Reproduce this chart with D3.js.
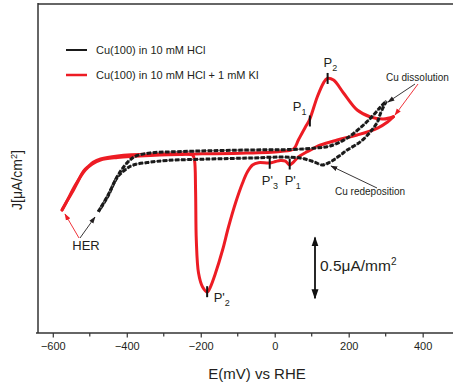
<!DOCTYPE html>
<html>
<head>
<meta charset="utf-8">
<script src="https://d3js.org/d3.v7.min.js"></script>
<style>
  body { margin: 0; background: #fff; }
  text { font-family: "Liberation Sans", Arial, sans-serif; fill: #231f20; }
</style>
</head>
<body>
<script>
// potential E (mV vs RHE) and current density J (uA/cm2)
var redAnodic = [
  [-575,-39.1],[-560,-30.9],[-544,-22.6],[-530,-14.4],[-517,-7.1],[-503,-3.0],[-490,0.3],
  [-471,2.8],[-425,5.3],[-336,6.9],[-214,7.0],[-93,7.5],[15,9.0],[51,11.0],[64,18.4],
  [83,29.1],[94,34.9],[115,53.7],[132,65.3],[142,68.9],[159,67.6],[186,57.0],[223,43.0],
  [259,37.3],[294,35.6],[321,37.5]
];
var redCathodic = [
  [321,37.5],[305,33.2],[278,28.2],[223,22.5],[169,18.4],[124,14.3],[88,8.8],[64,4.4],
  [48,-0.5],[40,-2.1],[29,1.1],[15,1.6],[2,0.7],[-14,-0.5],[-44,-0.2],[-60,-2.1],
  [-74,-7.9],[-87,-16.9],[-106,-33.3],[-125,-53.0],[-141,-71.9],[-160,-90.8],[-174,-102.3],
  [-182,-106.4],[-195,-102.3],[-206,-90.8],[-212,-63.7],[-214,-22.6],[-217,2.0],
  [-222,6.1],[-255,6.5],[-336,5.7],[-425,4.0],[-471,2.0],[-493,-1.3],[-512,-6.2],
  [-539,-18.5],[-563,-32.5],[-575,-39.1]
];
var blackCathodic = [
  [302,50.4],[286,40.3],[278,33.4],[259,25.2],[232,17.0],[196,10.2],[178,6.1],[159,2.0],
  [142,-0.9],[128,-2.1],[105,0.6],[69,3.6],[15,4.4],[-66,3.6],[-174,2.8],[-290,1.6],
  [-344,-0.1],[-382,-2.1],[-398,-4.6],[-425,-12.0],[-452,-28.4],[-477,-40.5]
];
var blackAnodic = [
  [-477,-40.5],[-452,-27.6],[-425,-11.2],[-404,-2.1],[-388,2.8],[-371,5.7],[-336,7.8],
  [-263,8.8],[-174,9.6],[-66,10.2],[42,10.6],[110,11.8],[150,13.5],[196,20.0],[240,30.7],
  [267,38.9],[286,45.5],[302,50.4]
];
var peaks = [
  {name: "P", sub: "2", prime: false, E: 143, J: 68.9, dx: -4, dy: -11.5},
  {name: "P", sub: "1", prime: false, E: 95, J: 34.0, dx: -17, dy: -10},
  {name: "P", sub: "1", prime: true, E: 40.5, J: -1.3, dx: -5, dy: 21},
  {name: "P", sub: "3", prime: true, E: -13.5, J: -0.7, dx: -8, dy: 21.5},
  {name: "P", sub: "2", prime: true, E: -182.7, J: -106.1, dx: 6.5, dy: 10.5}
];
var xTicks = [-600, -400, -200, 0, 200, 400];
var xMinorTicks = [-500, -300, -100, 100, 300];
var legendLabels = ["Cu(100) in 10 mM HCl", "Cu(100) in 10 mM HCl + 1 mM KI"];
var scaleBarValue = 50; // 0.5 uA/mm2 = 50 uA/cm2

var w = 453, h = 388;
var margin = {top: 4, left: 38};
var width = 415, height = 329;
var red = "#ed1c24";

var svg = d3.select("body").append("svg")
  .attr("width", w).attr("height", h);

var defs = svg.append("defs");
function marker(id, color, size) {
  defs.append("marker")
    .attr("id", id).attr("viewBox", "0 0 10 10")
    .attr("refX", 9).attr("refY", 5)
    .attr("markerUnits", "userSpaceOnUse")
    .attr("markerWidth", size).attr("markerHeight", size)
    .attr("orient", "auto-start-reverse")
    .append("path").attr("d", "M0,1.5 L10,5 L0,8.5 Z").attr("fill", color);
}
marker("arrBlack", "#231f20", 7);
marker("arrRed", red, 7);
marker("arrBig", "#111", 10);

var chart = svg.append("g")
  .attr("transform", "translate(" + margin.left + "," + margin.top + ")");

var x = d3.scaleLinear().domain([-640, 482]).range([0, width]);
var y = d3.scaleLinear().domain([-140, 130]).range([height, 0]);

// frame
chart.append("line").attr("x1", 0).attr("x2", 0).attr("y1", -1).attr("y2", height)
  .attr("stroke", "#333").attr("stroke-width", 1.5);
chart.append("line").attr("x1", 0).attr("x2", w).attr("y1", 0).attr("y2", 0)
  .attr("stroke", "#333").attr("stroke-width", 1.5);

// x axis
var xAxis = chart.append("g")
  .attr("transform", "translate(0," + height + ")")
  .call(d3.axisBottom(x).tickValues(xTicks).tickSize(4.5).tickPadding(5));
xAxis.select(".domain").remove();
xAxis.selectAll(".tick line").attr("stroke", "#333").attr("stroke-width", 1.2);
xAxis.selectAll("text").attr("font-size", 11).attr("fill", "#231f20")
  .style("font-family", "Liberation Sans, Arial, sans-serif");
xAxis.selectAll(".minor").data(xMinorTicks).enter().append("line")
  .attr("x1", x).attr("x2", x).attr("y1", 0).attr("y2", 3.5)
  .attr("stroke", "#333").attr("stroke-width", 1.2);
xAxis.append("line").attr("x1", -2).attr("x2", w).attr("y1", 0).attr("y2", 0)
  .attr("stroke", "#333").attr("stroke-width", 1.5);

svg.append("text").attr("x", 257).attr("y", 379).attr("text-anchor", "middle")
  .attr("font-size", 15).text("E(mV) vs RHE");

var yl = svg.append("text").attr("transform", "translate(22,180) rotate(-90)")
  .attr("text-anchor", "middle").attr("font-size", 14);
yl.append("tspan").text("J[\u03bcA/cm");
yl.append("tspan").attr("dy", -5).attr("font-size", 9).text("2");
yl.append("tspan").attr("dy", 5).text("]");

// curves
var line = d3.line()
  .x(function(d) { return x(d[0]); })
  .y(function(d) { return y(d[1]); })
  .curve(d3.curveCatmullRom.alpha(0.5));

[redAnodic, redCathodic].forEach(function(seg) {
  chart.append("path").attr("d", line(seg)).attr("fill", "none")
    .attr("stroke", red).attr("stroke-width", 3).attr("stroke-linejoin", "round")
    .attr("stroke-linecap", "round");
});
[blackCathodic, blackAnodic].forEach(function(seg) {
  chart.append("path").attr("d", line(seg)).attr("fill", "none")
    .attr("stroke", "#888").attr("stroke-width", 1.2);
  chart.append("path").attr("d", line(seg)).attr("fill", "none")
    .attr("stroke", "#1a1a1a").attr("stroke-width", 3)
    .attr("stroke-dasharray", "4.5,1.6");
});

// peak markers + labels
peaks.forEach(function(p) {
  var px = x(p.E), py = y(p.J);
  chart.append("line").attr("x1", px).attr("x2", px).attr("y1", py - 5.5).attr("y2", py + 5.5)
    .attr("stroke", "#111").attr("stroke-width", 2);
  var t = chart.append("text").attr("x", px + p.dx).attr("y", py + p.dy).attr("font-size", 13);
  t.append("tspan").text(p.name + (p.prime ? "'" : ""));
  t.append("tspan").attr("dy", 4).attr("font-size", 9).text(p.sub);
});

// legend
var legend = svg.append("g").selectAll("g").data(legendLabels).enter().append("g")
  .attr("transform", function(d, i) { return "translate(0," + (50 + i * 25) + ")"; });
legend.append("line").attr("x1", 66).attr("x2", 87).attr("y1", 0).attr("y2", 0)
  .attr("stroke", function(d, i) { return i ? red : "#1a1a1a"; })
  .attr("stroke-width", function(d, i) { return i ? 2.5 : 2; });
legend.append("text").attr("x", 96).attr("y", 4).attr("font-size", 11)
  .text(function(d) { return d; });

// annotations
function arrow(x1, y1, x2, y2, color, id) {
  svg.append("line").attr("x1", x1).attr("y1", y1).attr("x2", x2).attr("y2", y2)
    .attr("stroke", color).attr("stroke-width", 0.9).attr("marker-end", "url(#" + id + ")");
}
svg.append("text").attr("x", 386).attr("y", 81).attr("font-size", 10).text("Cu dissolution");
arrow(415, 84, 388, 102, "#231f20", "arrBlack");
arrow(418, 84, 395, 115, red, "arrRed");

svg.append("text").attr("x", 335).attr("y", 195).attr("font-size", 10).text("Cu redeposition");
arrow(377, 188, 331, 166, "#231f20", "arrBlack");

svg.append("text").attr("x", 86).attr("y", 250).attr("text-anchor", "middle")
  .attr("font-size", 13).text("HER");
arrow(79, 238, 65, 214, red, "arrRed");
arrow(80, 238, 95, 217, "#231f20", "arrBlack");

// scale bar
var sbTop = y(0) + margin.top + 75;
svg.append("line").attr("x1", 315).attr("x2", 315)
  .attr("y1", sbTop).attr("y2", sbTop + (y(0) - y(scaleBarValue)))
  .attr("stroke", "#111").attr("stroke-width", 1.8)
  .attr("marker-start", "url(#arrBig)").attr("marker-end", "url(#arrBig)");
var sb = svg.append("text").attr("x", 320).attr("y", 271).attr("font-size", 15.5);
sb.append("tspan").text("0.5\u03bcA/mm");
sb.append("tspan").attr("dy", -6).attr("font-size", 10).text("2");
</script>
</body>
</html>
